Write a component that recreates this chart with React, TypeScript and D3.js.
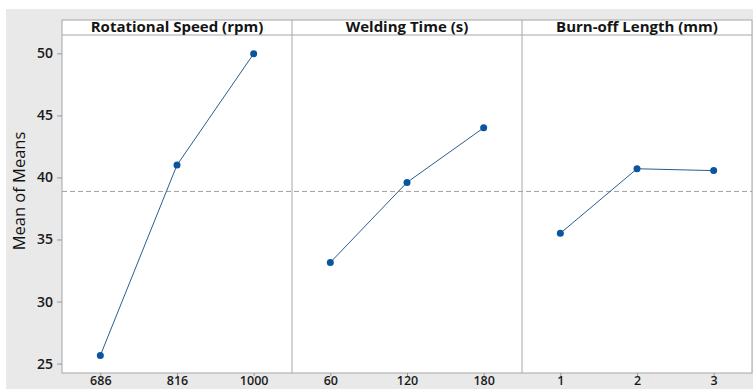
import React, { useEffect, useRef } from 'react';
import * as d3 from 'd3';

const factorNames = ['Rotational Speed (rpm)', 'Welding Time (s)', 'Burn-off Length (mm)'];
const speedLevels = ['686', '816', '1000'];
const speedMeans = [25.65, 41.0, 49.97];
const timeLevels = ['60', '120', '180'];
const timeMeans = [33.15, 39.6, 44.0];
const burnLevels = ['1', '2', '3'];
const burnMeans = [35.5, 40.7, 40.55];
const yTicks = [25, 30, 35, 40, 45, 50];

const App = () => {
    const ref = useRef<SVGSVGElement>(null);

    useEffect(() => {
        const width = 753;
        const height = 389;
        const left = 62;
        const right = 752;
        const headTop = 20;
        const plotTop = 35;
        const plotBottom = 373;
        const font = '"Open Sans", "Noto Sans", sans-serif';

        const svg = d3.select(ref.current);
        svg.selectAll('*').remove();

        // grey backdrop
        svg.append('rect').attr('x', 6).attr('y', 9).attr('width', width - 6).attr('height', height - 9).attr('fill', '#e9e9e9');

        const y = d3.scaleLinear().domain([24.24, 51.48]).range([plotBottom, plotTop]);

        const panels = [
            { name: factorNames[0], levels: speedLevels, means: speedMeans },
            { name: factorNames[1], levels: timeLevels, means: timeMeans },
            { name: factorNames[2], levels: burnLevels, means: burnMeans },
        ];
        const outer = d3.scaleBand().domain(factorNames).range([left, right]).padding(0);
        const grandMean = d3.mean(speedMeans) as number;

        // header strip + plot area
        svg.append('rect').attr('x', left).attr('y', headTop).attr('width', right - left).attr('height', plotBottom - headTop)
            .attr('fill', '#fff').attr('stroke', '#a6a6a6').attr('stroke-width', 1);
        svg.append('line').attr('x1', left).attr('x2', right).attr('y1', plotTop).attr('y2', plotTop)
            .attr('stroke', '#a6a6a6');

        // reference line
        svg.append('line').attr('x1', left).attr('x2', right).attr('y1', y(grandMean)).attr('y2', y(grandMean))
            .attr('stroke', '#a0a0a0').attr('stroke-dasharray', '5,3').attr('stroke-width', 1);

        panels.forEach((p, i) => {
            const x0 = outer(p.name) as number;
            const x = d3.scalePoint().domain(p.levels).range([x0, x0 + outer.bandwidth()]).padding(0.5);
            const g = svg.append('g');

            if (i > 0) {
                g.append('line').attr('x1', x0).attr('x2', x0).attr('y1', headTop).attr('y2', plotBottom)
                    .attr('stroke', '#a6a6a6');
            }

            g.append('text').attr('x', x0 + outer.bandwidth() / 2).attr('y', 32).attr('text-anchor', 'middle')
                .attr('font-family', font).attr('font-weight', 700).attr('font-size', 15).attr('fill', '#151515')
                .text(p.name);

            const line = d3.line<number>().x((_, j) => x(p.levels[j]) as number).y(d => y(d));
            g.append('path').attr('d', line(p.means)).attr('fill', 'none').attr('stroke', '#2b5d8f').attr('stroke-width', 1);
            g.selectAll('circle').data(p.means).enter().append('circle')
                .attr('cx', (_, j) => x(p.levels[j]) as number).attr('cy', d => y(d)).attr('r', 3.5).attr('fill', '#0a55a0');

            // labels squeezed up so they stay inside the frame
            const axis = g.append('g').attr('transform', `translate(0,${plotBottom})`)
                .call(d3.axisBottom(x).tickSize(3).tickPadding(0));
            axis.select('.domain').remove();
            axis.selectAll('line').attr('stroke', '#999');
            axis.selectAll('text').attr('font-family', font).attr('font-weight', 600).attr('font-size', 12.5).attr('fill', '#1a1a1a');
        });

        const yAxis = svg.append('g').attr('transform', `translate(${left},0)`)
            .call(d3.axisLeft(y).tickValues(yTicks).tickSize(5).tickPadding(4));
        yAxis.select('.domain').remove();
        yAxis.selectAll('line').attr('stroke', '#999');
        yAxis.selectAll('text').attr('font-family', font).attr('font-weight', 600).attr('font-size', 14).attr('fill', '#1a1a1a');

        svg.append('text').attr('transform', `translate(25,${191}) rotate(-90)`).attr('text-anchor', 'middle')
            .attr('font-family', font).attr('font-size', 16.5).attr('fill', '#111').text('Mean of Means');
    }, []);

    return <svg ref={ref} width={753} height={389} style={{ position: 'absolute', left: 0, top: 0 }} />;
};

export default App;
